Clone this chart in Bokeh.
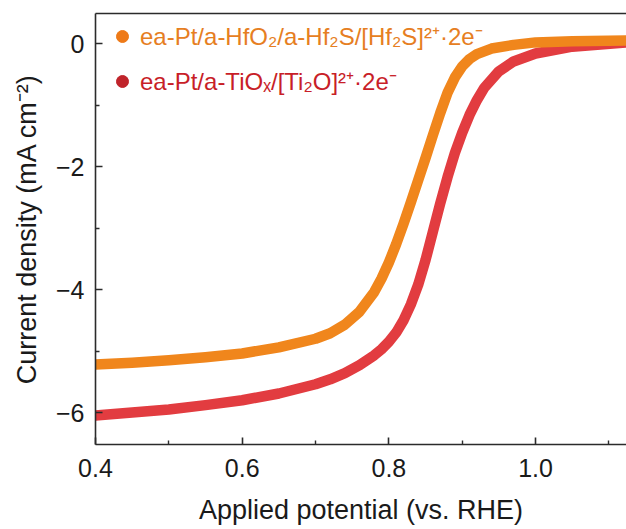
from bokeh.plotting import figure
from bokeh.models import (Range1d, FixedTicker, LinearAxis, Legend, LegendItem)
from bokeh.embed import file_html
from bokeh.resources import INLINE

# ---- data ----
pot_hf = [0.40, 0.45, 0.50, 0.55, 0.60, 0.65, 0.70, 0.72, 0.74, 0.76, 0.78, 0.79,
          0.80, 0.81, 0.82, 0.83, 0.84, 0.85, 0.86, 0.87, 0.88, 0.89, 0.90, 0.91,
          0.92, 0.94, 0.97, 1.00, 1.05, 1.124]
cur_hf = [-5.22, -5.19, -5.15, -5.10, -5.04, -4.94, -4.80, -4.71, -4.57, -4.36, -4.04, -3.82,
          -3.56, -3.26, -2.93, -2.58, -2.22, -1.86, -1.49, -1.13, -0.80, -0.55, -0.37, -0.25,
          -0.17, -0.08, -0.02, 0.02, 0.04, 0.05]

pot_ti = [0.40, 0.45, 0.50, 0.55, 0.60, 0.65, 0.70, 0.72, 0.74, 0.76, 0.78, 0.79,
          0.80, 0.81, 0.82, 0.83, 0.84, 0.85, 0.86, 0.87, 0.88, 0.89, 0.90, 0.91,
          0.92, 0.93, 0.95, 0.97, 1.00, 1.05, 1.124]
cur_ti = [-6.05, -6.00, -5.95, -5.88, -5.80, -5.69, -5.54, -5.46, -5.36, -5.23, -5.07, -4.97,
          -4.85, -4.70, -4.50, -4.24, -3.92, -3.52, -3.06, -2.60, -2.17, -1.78, -1.45, -1.16,
          -0.92, -0.72, -0.45, -0.29, -0.16, -0.05, 0.02]

label_hf = "ea-Pt/a-HfO\u2082/a-Hf\u2082S/[Hf\u2082S]\u00b2\u207a\u00b72e\u207b"
label_ti = "ea-Pt/a-TiO\u2093/[Ti\u2082O]\u00b2\u207a\u00b72e\u207b"

x_ticks = [0.4, 0.6, 0.8, 1.0]
x_minor = [0.5, 0.7, 0.9, 1.1]
y_ticks = [0, -2, -4, -6]
y_minor = [-1, -3, -5]

FONT = "Liberation Sans"
AX = "#2b2b2b"
NAN = float("nan")

p = figure(width=626, height=529, output_backend="svg", toolbar_location=None,
           x_range=Range1d(0.4, 1.124), y_range=Range1d(-6.52, 0.49),
           min_border_left=95, min_border_right=0, min_border_top=13, min_border_bottom=85)
p.outline_line_color = None
p.grid.visible = False
p.background_fill_color = "white"
p.border_fill_color = "white"

p.line(pot_ti, cur_ti, line_width=10.5, line_color="#E23C40", line_cap="round", line_join="round")
p.line(pot_hf, cur_hf, line_width=10.5, line_color="#F0861C", line_cap="round", line_join="round")

# legend markers (renderers with no visible point, used only as legend glyphs)
m_hf = p.scatter(x=[NAN], y=[NAN], size=13, marker="circle", fill_color="#EE7A18", line_color="#EE7A18")
m_ti = p.scatter(x=[NAN], y=[NAN], size=13, marker="circle", fill_color="#C0242B", line_color="#C0242B")

def style_axis(ax):
    ax.axis_line_color = AX
    ax.axis_line_width = 1.6
    ax.major_tick_line_color = AX
    ax.major_tick_line_width = 1.6
    ax.minor_tick_line_color = AX
    ax.minor_tick_line_width = 1.4
    ax.major_tick_in = 7
    ax.major_tick_out = 0
    ax.minor_tick_in = 4
    ax.minor_tick_out = 0
    ax.major_label_text_font = FONT
    ax.major_label_text_font_size = "25px"
    ax.major_label_text_color = "#1a1a1a"
    ax.axis_label_text_font = FONT
    ax.axis_label_text_font_size = "27px"
    ax.axis_label_text_font_style = "normal"
    ax.axis_label_text_color = "#1a1a1a"

xa = p.xaxis[0]
ya = p.yaxis[0]
style_axis(xa)
style_axis(ya)
xa.ticker = FixedTicker(ticks=x_ticks, minor_ticks=x_minor)
ya.ticker = FixedTicker(ticks=y_ticks, minor_ticks=y_minor)
xa.major_label_overrides = {t: f"{t:.1f}" for t in x_ticks}
ya.major_label_overrides = {t: ("0" if t == 0 else "\u2212" + str(abs(t))) for t in y_ticks}
xa.axis_label = "Applied potential (vs. RHE)"
ya.axis_label = "Current density (mA cm\u207b\u00b2)"
xa.major_label_standoff = 14
xa.axis_label_standoff = 15
ya.major_label_standoff = 11
ya.axis_label_standoff = 11

top = LinearAxis(ticker=FixedTicker(ticks=[]), major_label_text_font_size="0px",
                 axis_line_color=AX, axis_line_width=1.6,
                 major_tick_line_color=None, minor_tick_line_color=None,
                 major_label_standoff=0)
p.add_layout(top, "above")

def make_legend(item, label, color, loc):
    lg = Legend(items=[LegendItem(label=label, renderers=[item], index=0)], location=loc,
                label_text_font=FONT, label_text_font_size="24px", label_text_color=color,
                background_fill_alpha=0, border_line_color=None,
                glyph_width=30, glyph_height=30, label_standoff=3,
                padding=0, margin=0, spacing=0, label_height=30)
    return lg

p.add_layout(make_legend(m_hf, label_hf, "#E67E22", (12, 392)))
p.add_layout(make_legend(m_ti, label_ti, "#C81E28", (12, 347)))

open("out.html", "w").write(file_html(p, INLINE))
